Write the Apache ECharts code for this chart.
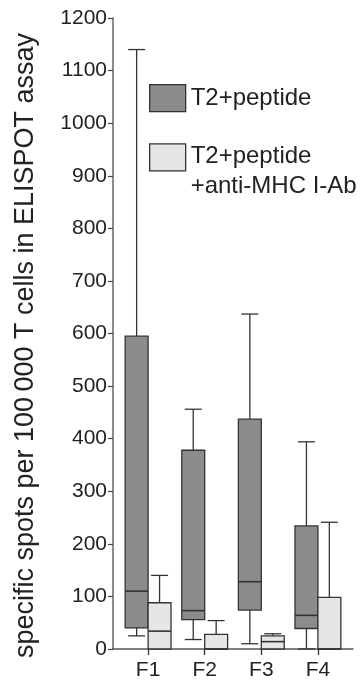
<!DOCTYPE html>
<html>
<head>
<meta charset="utf-8">
<script src="https://cdn.jsdelivr.net/npm/echarts@6/dist/echarts.min.js"></script>
<style>
html,body{margin:0;padding:0;background:#fff;}
#chart{width:360px;height:681px;}
</style>
</head>
<body>
<div id="chart"></div>
<script>
const categories = ['F1', 'F2', 'F3', 'F4'];
const yTicks = [0, 100, 200, 300, 400, 500, 600, 700, 800, 900, 1000, 1100, 1200];

const seriesNameA = 'T2+peptide';
const peptideMin    = [25, 18, 10, 0];
const peptideQ1     = [40, 56, 74, 39];
const peptideMedian = [110, 73, 128, 64];
const peptideQ3     = [595, 378, 437, 234];
const peptideMax    = [1140, 456, 637, 394];

const seriesNameB = 'T2+peptide\n+anti-MHC I-Ab';
const antibodyMin    = [0, 0, 0, 0];
const antibodyQ1     = [0, 0, 0, 0];
const antibodyMedian = [34, 0, 14, 0];
const antibodyQ3     = [88, 28, 25, 98];
const antibodyMax    = [140, 54, 29, 241];

const yTitle = 'specific spots per 100\u2009000 T cells in ELISPOT assay';

const FONT = '"Liberation Sans", Arial, Helvetica, sans-serif';
const BOX_FRAC = 0.405;
const CAP_FRAC = 0.30;
const LINE = '#333333';

function rows(mins, q1s, meds, q3s, maxs) {
  return categories.map((c, i) => [i + 1, mins[i], q1s[i], meds[i], q3s[i], maxs[i]]);
}

function makeRender(side, fill) {
  return function (params, api) {
    const x = api.value(0);
    const unit = api.size([1, 0])[0];
    const bw = unit * BOX_FRAC;
    const cw = unit * CAP_FRAC;
    const cx = api.coord([x, 0])[0];
    const left = side < 0 ? cx - bw : cx;
    const mid = left + bw / 2;
    const yv = i => api.coord([x, api.value(i)])[1];
    const yMin = yv(1), yQ1 = yv(2), yMed = yv(3), yQ3 = yv(4), yMax = yv(5);
    const ls = { stroke: LINE, lineWidth: 1.3 };
    const children = [];
    if (yMax < yQ3) {
      children.push({ type: 'line', shape: { x1: mid, y1: yQ3, x2: mid, y2: yMax }, style: ls });
      children.push({ type: 'line', shape: { x1: mid - cw / 2, y1: yMax, x2: mid + cw / 2, y2: yMax }, style: ls });
    }
    if (yMin > yQ1) {
      children.push({ type: 'line', shape: { x1: mid, y1: yQ1, x2: mid, y2: yMin }, style: ls });
      children.push({ type: 'line', shape: { x1: mid - cw / 2, y1: yMin, x2: mid + cw / 2, y2: yMin }, style: ls });
    }
    children.push({ type: 'rect', shape: { x: left, y: yQ3, width: bw, height: yQ1 - yQ3 },
      style: { fill: fill, stroke: LINE, lineWidth: 1.3 } });
    children.push({ type: 'line', shape: { x1: left, y1: yMed, x2: left + bw, y2: yMed },
      style: { stroke: LINE, lineWidth: 1.6 } });
    return { type: 'group', children: children };
  };
}

function legendLabel(name) {
  const parts = name.split('\n');
  if (parts.length < 2) return '{one|' + name + '}';
  return '{l1|' + parts[0] + '}\n{l2|' + parts[1] + '}';
}

const chart = echarts.init(document.getElementById('chart'), null, { renderer: 'canvas' });
chart.setOption({
  animation: false,
  backgroundColor: '#ffffff',
  textStyle: { fontFamily: FONT },
  grid: { left: 113, right: 7, top: 18, bottom: 31, containLabel: false },
  legend: {
    orient: 'vertical',
    left: 149,
    top: 84,
    padding: 0,
    itemWidth: 36,
    itemHeight: 27,
    itemGap: 31,
    selectedMode: false,
    formatter: legendLabel,
    textStyle: {
      fontFamily: FONT, fontSize: 24, color: '#222',
      rich: {
        one: { fontFamily: FONT, fontSize: 24, color: '#222' },
        l1: { fontFamily: FONT, fontSize: 24, color: '#222', padding: [34, 0, 0, 0] },
        l2: { fontFamily: FONT, fontSize: 24, color: '#222', lineHeight: 37 }
      }
    },
    data: [
      { name: seriesNameA, icon: 'rect', itemStyle: { color: '#8c8c8c', borderColor: LINE, borderWidth: 1.3 } },
      { name: seriesNameB, icon: 'rect', itemStyle: { color: '#e6e6e6', borderColor: LINE, borderWidth: 1.3 } }
    ]
  },
  xAxis: {
    type: 'value',
    min: 0.38,
    max: 4.62,
    splitLine: { show: false },
    axisLine: { lineStyle: { color: '#555', width: 1.5 } },
    axisTick: { show: true, length: 6, customValues: [1, 2, 3, 4], lineStyle: { color: '#333', width: 1.3 } },
    axisLabel: {
      customValues: [1, 2, 3, 4],
      formatter: v => categories[Math.round(v) - 1] || '',
      fontFamily: FONT, fontSize: 21, color: '#222', margin: 11
    }
  },
  yAxis: {
    type: 'value',
    min: yTicks[0],
    max: yTicks[yTicks.length - 1],
    interval: 100,
    splitLine: { show: false },
    axisLine: { show: true, lineStyle: { color: '#666', width: 1.5 } },
    axisTick: { show: true, length: 5, lineStyle: { color: '#444', width: 1.2 } },
    axisLabel: { fontFamily: FONT, fontSize: 21, color: '#222', margin: 6, formatter: v => String(v) },
    name: yTitle,
    nameLocation: 'middle',
    nameGap: 74,
    nameTextStyle: { fontFamily: FONT, fontSize: 27, color: '#222', padding: [0, 24, 0, 0] }
  },
  series: [
    {
      name: seriesNameA,
      type: 'custom',
      renderItem: makeRender(-1, '#8c8c8c'),
      itemStyle: { color: '#8c8c8c' },
      encode: { x: 0, y: [1, 2, 3, 4, 5] },
      data: rows(peptideMin, peptideQ1, peptideMedian, peptideQ3, peptideMax)
    },
    {
      name: seriesNameB,
      type: 'custom',
      renderItem: makeRender(1, '#e6e6e6'),
      itemStyle: { color: '#e6e6e6' },
      encode: { x: 0, y: [1, 2, 3, 4, 5] },
      data: rows(antibodyMin, antibodyQ1, antibodyMedian, antibodyQ3, antibodyMax)
    }
  ]
});
</script>
</body>
</html>
